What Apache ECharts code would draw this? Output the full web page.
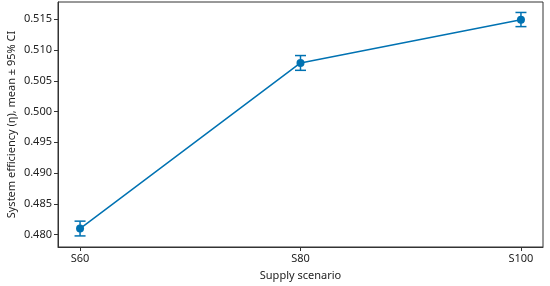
<!DOCTYPE html>
<html>
<head>
<meta charset="utf-8">
<script src="https://cdn.jsdelivr.net/npm/echarts@6/dist/echarts.min.js"></script>
<style>
html, body { margin: 0; padding: 0; background: #fff; }
#chart { width: 550px; height: 286px; }
</style>
</head>
<body>
<div id="chart"></div>
<script>
// data
const categories = ['S60', 'S80', 'S100']
const meanValues = [0.4810, 0.5079, 0.5149]
const ciLow = [0.4798, 0.5067, 0.5138]
const ciHigh = [0.4822, 0.5091, 0.5161]
const yTicks = [0.480, 0.485, 0.490, 0.495, 0.500, 0.505, 0.510, 0.515]

const blue = '#0072B2'
const fontFamily = '"Noto Sans", "Open Sans", sans-serif'

let chart = echarts.init(document.getElementById('chart'))

let lineData = meanValues.map((v, i) => [i, v])
let errData = meanValues.map((v, i) => [i, ciLow[i], ciHigh[i]])

let options = {
  animation: false,
  grid: {
    left: 58,
    right: 7,
    top: 2,
    bottom: 39,
    outerBoundsMode: 'none',
    containLabel: false,
    show: true,
    borderColor: '#333',
    borderWidth: 1,
    backgroundColor: '#fff'
  },
  xAxis: {
    type: 'value',
    min: -0.1,
    max: 2.1,
    name: 'Supply scenario',
    nameLocation: 'middle',
    nameGap: 23,
    nameMoveOverlap: false,
    nameTextStyle: { color: '#222', fontSize: 11, fontFamily: fontFamily },
    axisLine: { show: true, onZero: false, lineStyle: { color: '#333' } },
    axisTick: { show: true, length: 4, customValues: [0, 1, 2], lineStyle: { color: '#333' } },
    axisLabel: {
      customValues: [0, 1, 2],
      color: '#222',
      fontSize: 11,
      fontFamily: fontFamily,
      margin: 6,
      formatter: (v) => categories[Math.round(v)]
    },
    splitLine: { show: false }
  },
  yAxis: {
    type: 'value',
    min: 0.478,
    max: 0.5178,
    name: 'System efficiency (η), mean ± 95% CI',
    nameLocation: 'middle',
    nameGap: 41,
    nameMoveOverlap: false,
    nameTextStyle: { color: '#222', fontSize: 11, fontFamily: fontFamily },
    axisLine: { show: true, onZero: false, lineStyle: { color: '#333' } },
    axisTick: { show: true, length: 4, customValues: yTicks, lineStyle: { color: '#333' } },
    axisLabel: {
      customValues: yTicks,
      color: '#222',
      fontSize: 11,
      fontFamily: fontFamily,
      margin: 6,
      formatter: (v) => v.toFixed(3)
    },
    splitLine: { show: false }
  },
  series: [
    {
      type: 'custom',
      data: errData,
      z: 3,
      renderItem: function (params, api) {
        let x = api.value(0)
        let lo = api.coord([x, api.value(1)])
        let hi = api.coord([x, api.value(2)])
        let half = 5.5
        let style = { stroke: blue, lineWidth: 1.5 }
        return {
          type: 'group',
          children: [
            { type: 'line', shape: { x1: lo[0], y1: lo[1], x2: hi[0], y2: hi[1] }, style: style },
            { type: 'line', shape: { x1: lo[0] - half, y1: lo[1], x2: lo[0] + half, y2: lo[1] }, style: style },
            { type: 'line', shape: { x1: hi[0] - half, y1: hi[1], x2: hi[0] + half, y2: hi[1] }, style: style }
          ]
        }
      }
    },
    {
      type: 'line',
      data: lineData,
      z: 4,
      symbol: 'circle',
      symbolSize: 8,
      lineStyle: { color: blue, width: 1.5 },
      itemStyle: { color: blue }
    }
  ]
}

chart.setOption(options)
</script>
</body>
</html>
